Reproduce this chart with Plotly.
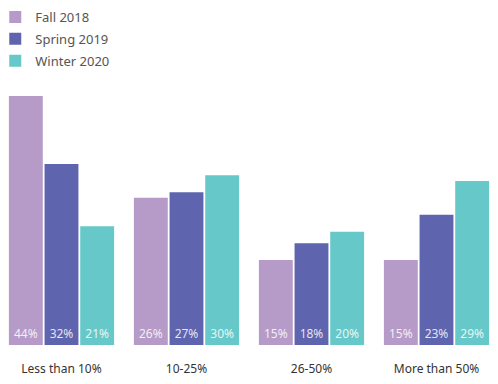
import plotly.graph_objects as go

categories = ["Less than 10%", "10-25%", "26-50%", "More than 50%"]
series_names = ["Fall 2018", "Spring 2019", "Winter 2020"]
fall_2018 = [44, 26, 15, 15]
spring_2019 = [32, 27, 18, 23]
winter_2020 = [21, 30, 20, 29]
colors = ["#b69bc8", "#5e64ae", "#66c8c9"]

fig = go.Figure()
for name, vals, col in zip(series_names, [fall_2018, spring_2019, winter_2020], colors):
    fig.add_trace(go.Bar(
        name=name, x=categories, y=vals, legendgroup=name,
        marker=dict(color=col, line=dict(width=0)),
        text=[f"{v}%" for v in vals],
        textposition="inside", insidetextanchor="start",
        textfont=dict(color="rgba(255,255,255,0.85)", size=12, family="Noto Sans"),
        textangle=0,
    ))

# page body has an 8px margin, so the figure is sized to fill the rest of the window
fig.update_layout(
    width=490, height=376,
    margin=dict(l=0, r=0, t=0, b=39, autoexpand=False),
    barmode="group", bargap=0.144, bargroupgap=0.05,
    plot_bgcolor="white", paper_bgcolor="white",
    font=dict(family="Noto Sans", size=13, color="#444"),
    legend=dict(x=-0.026, y=1.018, xanchor="left", yanchor="top",
                font=dict(size=13, color="#555"), bgcolor="rgba(0,0,0,0)",
                tracegroupgap=2, traceorder="grouped"),
    xaxis=dict(range=[-0.428, 3.492], showgrid=False, showline=False, ticks="",
               automargin=False, ticklabelstandoff=15,
               tickfont=dict(size=12, color="#333")),
    yaxis=dict(range=[0, 59.55], visible=False, automargin=False),
    uniformtext=dict(mode=False),
)
fig.write_html("out.html")
